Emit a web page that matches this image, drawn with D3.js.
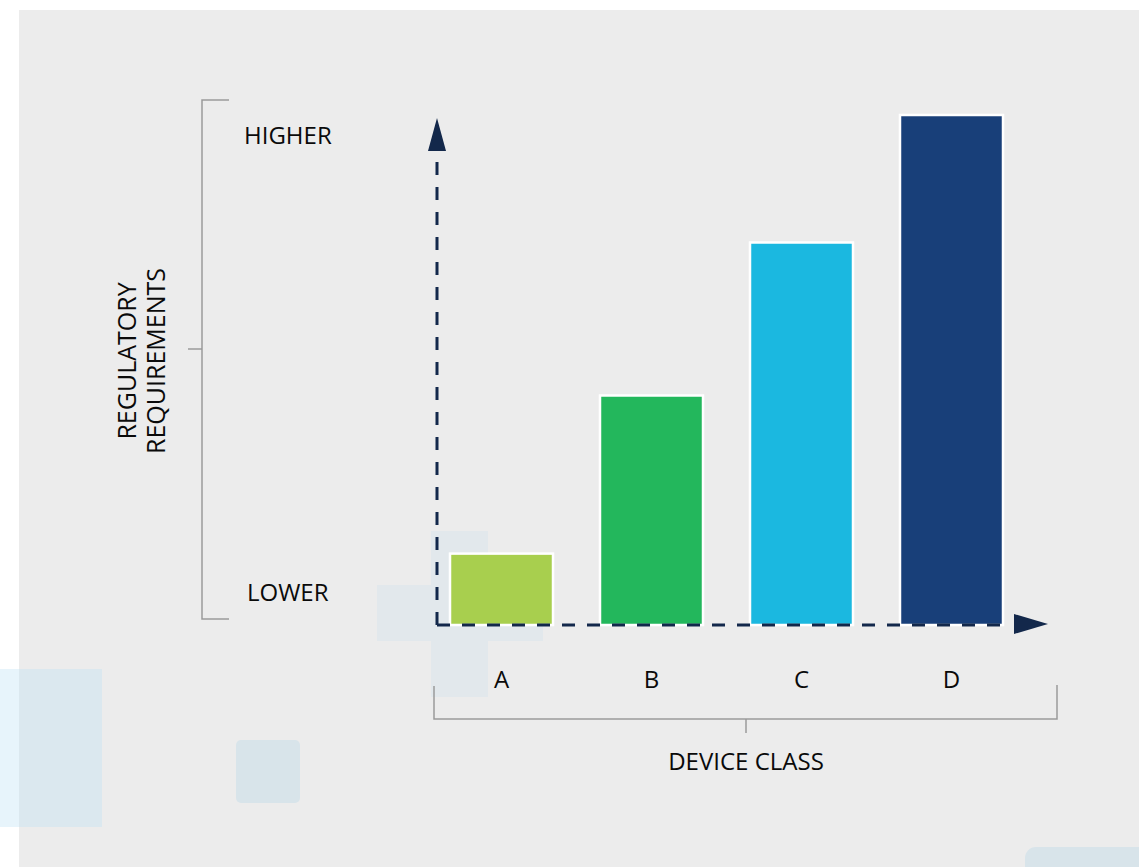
<!DOCTYPE html>
<html lang="en">
<head>
<meta charset="UTF-8">
<title>Device class vs regulatory requirements</title>
<script src="https://d3js.org/d3.v7.min.js"></script>
<style>
  body { margin: 0; background: #fff; }
  svg text { font-family: "Open Sans", "Noto Sans", sans-serif; font-weight: 500; fill: #0a0a0a; }
</style>
</head>
<body>
<div id="chart"></div>
<script>
// data
var classes = ["A", "B", "C", "D"];
var levels = [14, 45, 75, 100];
var colors = ["#a8cf4e", "#23b75c", "#1bb8e0", "#183f79"];
var levelLabels = ["LOWER", "HIGHER"];
var yTitle = ["REGULATORY", "REQUIREMENTS"];
var xTitle = "DEVICE CLASS";

var W = 1139, H = 867;
var svg = d3.select("#chart").append("svg")
  .attr("width", W).attr("height", H);

// background panel + decorative shapes
svg.append("rect").attr("x", 19).attr("y", 10).attr("width", W - 19).attr("height", H - 10)
  .style("fill", "#ececec");
svg.append("rect").attr("x", 0).attr("y", 669).attr("width", 102).attr("height", 158)
  .style("fill", "#bfe3f4").style("opacity", 0.38);
svg.append("rect").attr("x", 236).attr("y", 740).attr("width", 64).attr("height", 63).attr("rx", 5)
  .style("fill", "#d8e4ea");
svg.append("rect").attr("x", 1025).attr("y", 847).attr("width", 140).attr("height", 40).attr("rx", 11)
  .style("fill", "#d8e4ea");
svg.append("rect").attr("x", 431).attr("y", 531).attr("width", 57).attr("height", 166)
  .style("fill", "#e2e8ec");
svg.append("rect").attr("x", 377).attr("y", 585).attr("width", 166).attr("height", 56)
  .style("fill", "#e2e8ec");

// scales
var x = d3.scaleBand().domain(classes).range([450, 1003]).paddingInner(0.3133).paddingOuter(0);
var y = d3.scaleLinear().domain([0, 100]).range([625, 115]);

// bars
svg.append("g").selectAll("rect")
  .data(classes)
  .enter().append("rect")
    .attr("x", function(d) { return x(d); })
    .attr("y", function(d, i) { return y(levels[i]); })
    .attr("width", x.bandwidth())
    .attr("height", function(d, i) { return y(0) - y(levels[i]); })
    .style("fill", function(d, i) { return colors[i]; })
    .style("stroke", "#fff")
    .style("stroke-width", 2.5);

// dashed axes with arrowheads
var axisColor = "#13284b";
var ox = 437, oy = y(0);
svg.append("line").attr("x1", ox).attr("y1", oy).attr("x2", ox).attr("y2", 152)
  .style("stroke", axisColor).style("stroke-width", 3).style("stroke-dasharray", "13,12");
svg.append("line").attr("x1", ox).attr("y1", oy).attr("x2", 1010).attr("y2", oy)
  .style("stroke", axisColor).style("stroke-width", 3).style("stroke-dasharray", "13,12");
svg.append("path").attr("d", "M437,118 L446,151 L428,151 Z").style("fill", axisColor);
svg.append("path").attr("d", "M1048,624 L1014,614 L1014,634 Z").style("fill", axisColor);

// category labels
svg.append("g").selectAll("text")
  .data(classes)
  .enter().append("text")
    .attr("x", function(d) { return x(d) + x.bandwidth() / 2; })
    .attr("y", 688)
    .attr("text-anchor", "middle")
    .style("font-size", "24px")
    .text(function(d) { return d; });

// left bracket
var bracket = "#9a9a9a";
svg.append("path").attr("d", "M229,100 H202 V619 H229 M202,349 H188")
  .style("fill", "none").style("stroke", bracket).style("stroke-width", 1.5);
svg.append("text").attr("x", 244).attr("y", 144).style("font-size", "24px").text(levelLabels[1]);
svg.append("text").attr("x", 247).attr("y", 601).style("font-size", "24px").text(levelLabels[0]);

var yt = svg.append("text")
  .attr("transform", "translate(136,361) rotate(-90)")
  .attr("text-anchor", "middle")
  .style("font-size", "25px");
yt.append("tspan").attr("x", 0).attr("dy", 0).text(yTitle[0]);
yt.append("tspan").attr("x", 0).attr("dy", 29).text(yTitle[1]);

// bottom bracket
svg.append("path").attr("d", "M434,686 V719 H1057 V685 M746,719 V733")
  .style("fill", "none").style("stroke", bracket).style("stroke-width", 1.5);
svg.append("text").attr("x", 746).attr("y", 770).attr("text-anchor", "middle")
  .style("font-size", "24px").text(xTitle);
</script>
</body>
</html>
